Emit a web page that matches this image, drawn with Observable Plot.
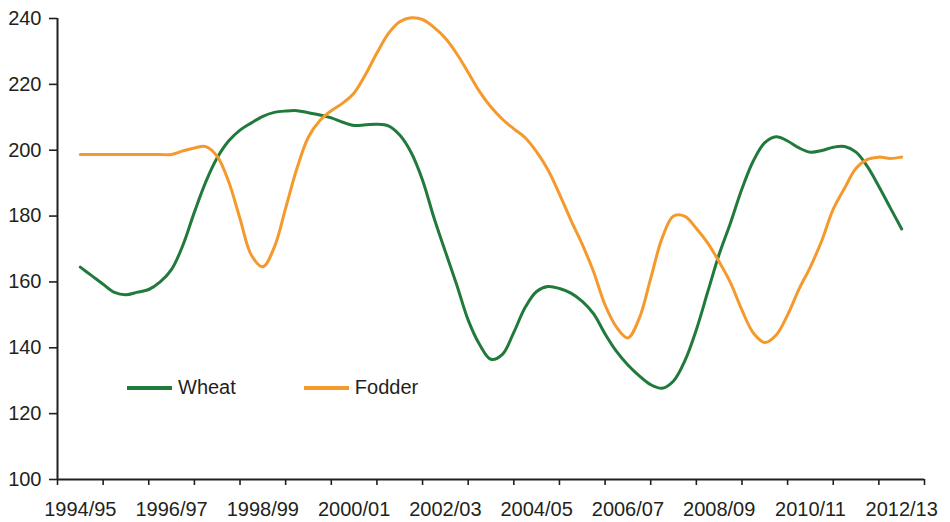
<!DOCTYPE html>
<html>
<head>
<meta charset="utf-8">
<script src="https://cdn.jsdelivr.net/npm/d3@7"></script>
<script src="https://cdn.jsdelivr.net/npm/@observablehq/plot@0.6"></script>
<style>
  html, body { margin: 0; padding: 0; background: #fff; }
  #wrap { position: relative; width: 950px; height: 522px; font-family: "Liberation Sans", Arial, sans-serif; color: #231f20; }
  #legend { position: absolute; left: 127px; top: 376px; display: flex; align-items: center; font-size: 20px; }
  .item { display: flex; align-items: center; }
  .sw { width: 45px; height: 4px; margin-right: 6px; }
  svg { overflow: visible; }
</style>
</head>
<body>
<div id="wrap"><div id="chart"></div>
<div id="legend">
  <div class="item" style="margin-right:68px"><div class="sw" style="background:#217a3b"></div><span>Wheat</span></div>
  <div class="item"><div class="sw" style="background:#f5992c"></div><span>Fodder</span></div>
</div>
</div>
<script>
const seasons = ["1994/95","1995/96","1996/97","1997/98","1998/99","1999/00","2000/01","2001/02","2002/03","2003/04","2004/05","2005/06","2006/07","2007/08","2008/09","2009/10","2010/11","2011/12","2012/13"];
const yTicks = [100, 120, 140, 160, 180, 200, 220, 240];

// quarterly readings, starting at 1994/95
const wheat = [164.5,161.9,159.3,156.8,156.1,156.9,157.7,160.0,163.8,171.2,181.2,190.4,197.7,202.8,206.1,208.3,210.3,211.5,211.9,212.0,211.4,210.7,209.8,208.5,207.5,207.7,207.9,207.4,204.6,199.3,190.9,179.5,169.2,159.1,148.4,141.0,136.5,138.0,144.7,152.3,157.1,158.6,158.0,156.6,154.1,150.3,144.2,138.9,134.8,131.5,128.8,127.7,129.9,136.1,145.5,157.0,168.4,178.0,188.3,196.8,202.3,204.1,202.8,200.7,199.4,199.9,200.9,201.1,199.4,195.0,189.0,182.5,176.1];
const fodder = [198.7,198.7,198.7,198.7,198.7,198.7,198.7,198.7,198.7,199.8,200.7,201.1,198.1,190.5,179.2,168.1,164.6,170.5,182.4,194.6,204.0,209.0,212.0,214.3,217.4,223.0,229.5,235.4,239.0,240.2,239.7,237.3,234.0,229.3,223.6,217.8,213.1,209.4,206.5,203.8,199.5,194.0,186.7,178.8,171.4,163.0,153.0,146.3,143.0,149.0,161.1,173.3,180.0,179.9,176.2,171.8,166.1,159.7,151.4,144.5,141.6,143.9,150.0,157.8,164.6,172.6,182.1,188.5,194.5,197.2,197.9,197.5,197.9];

const series = [
  {name: "Wheat", values: wheat, color: "#217a3b"},
  {name: "Fodder", values: fodder, color: "#f5992c"}
];
const rows = series.flatMap(s => s.values.map((v, i) => ({series: s.name, t: i / 4, v})));
const ink = "#231f20";
const bounds = d3.range(0, seasons.length + 1).map(i => i - 0.5);
const labelIdx = d3.range(0, seasons.length, 2);

const chart = Plot.plot({
  width: 950,
  height: 522,
  marginLeft: 57,
  marginRight: 26,
  marginTop: 18,
  marginBottom: 43,
  style: {fontFamily: "'Liberation Sans', Arial, sans-serif", fontSize: "20px", color: ink, background: "#fff"},
  x: {domain: [-0.5, seasons.length - 0.5]},
  y: {domain: [100, 240]},
  color: {domain: series.map(s => s.name), range: series.map(s => s.color)},
  marks: [
    Plot.axisY({ticks: yTicks, tickSize: 8, tickPadding: 8, label: null, stroke: ink, strokeWidth: 1.6, fill: ink, fontSize: 20}),
    Plot.axisX({ticks: bounds, tickSize: 6, tickFormat: () => "", label: null, stroke: ink, strokeWidth: 1.6}),
    Plot.axisX({ticks: labelIdx, tickSize: 0, tickPadding: 22, tickFormat: i => seasons[i], label: null, fill: ink, fontSize: 20}),
    Plot.ruleY([100], {stroke: ink, strokeWidth: 2}),
    Plot.ruleX([-0.5], {y1: 100, y2: 240, stroke: ink, strokeWidth: 2}),
    Plot.line(rows, {x: "t", y: "v", z: "series", stroke: "series", strokeWidth: 3, curve: "catmull-rom"})
  ]
});
document.getElementById("chart").appendChild(chart);
</script>
</body>
</html>
